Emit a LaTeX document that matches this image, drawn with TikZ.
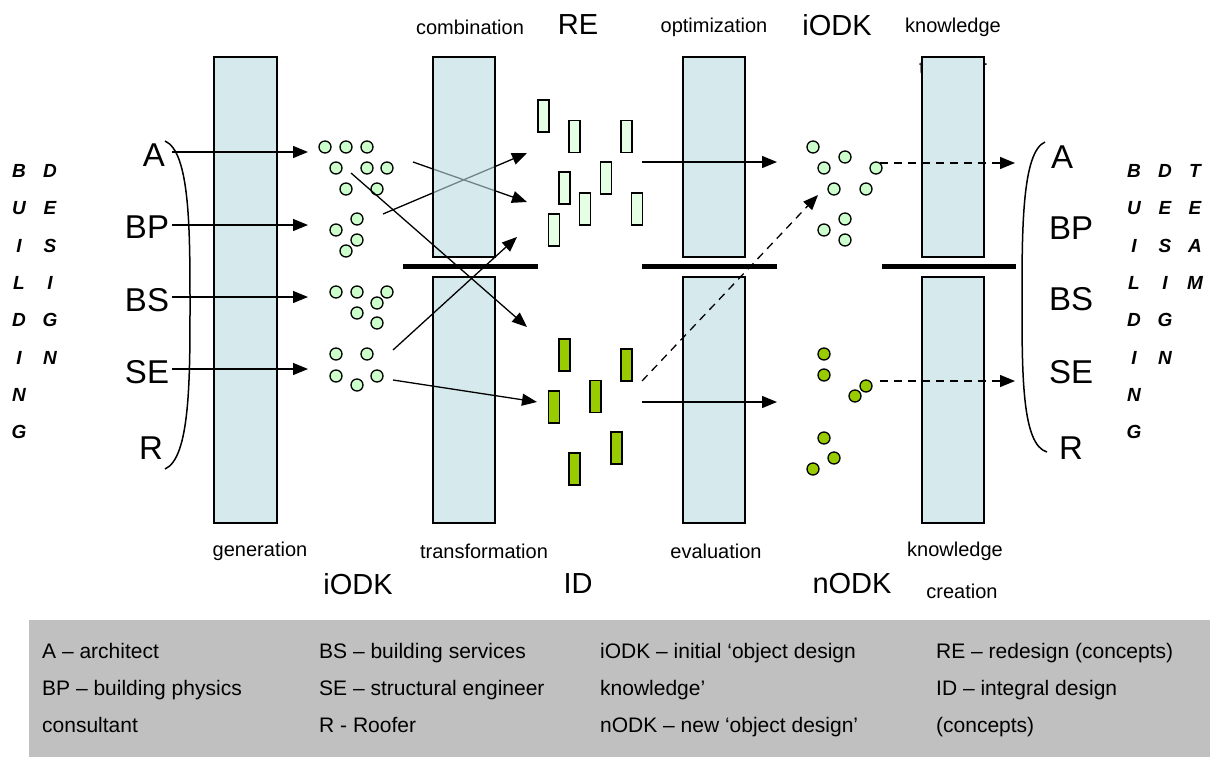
\documentclass[tikz,border=0pt]{standalone}
\usepackage{fontspec}
\setmainfont{Liberation Sans}
\usetikzlibrary{arrows.meta,positioning}

\definecolor{barfill}{RGB}{214,234,238}
\definecolor{barglass}{RGB}{187,220,227}
\definecolor{odkgreen}{RGB}{204,255,204}
\definecolor{regreen}{RGB}{228,255,228}
\definecolor{idgreen}{RGB}{153,204,0}
\definecolor{legendgray}{RGB}{192,192,192}

\begin{document}
\begin{tikzpicture}[
        x=1pt, y=-1pt,
        phase/.style={draw, line width=1.6pt, fill=barfill},
        phaseglass/.style={draw, line width=1.6pt, fill=barglass, fill opacity=0.6},
        gate/.style={line width=5pt},
        odk/.style={circle, draw, line width=1.3pt, fill=odkgreen, minimum size=12pt, inner sep=0pt},
        nodk/.style={odk, fill=idgreen},
        recon/.style={draw, line width=1.3pt, fill=regreen, minimum width=11pt, minimum height=32pt, inner sep=0pt},
        idcon/.style={recon, fill=idgreen},
        flow/.style={line width=1.3pt, -{Triangle[length=15pt,width=12pt]}},
        flowdash/.style={flow, dash pattern=on 8pt off 6pt},
        small/.style={font=\fontsize{20}{24}\selectfont},
        big/.style={font=\fontsize{29}{34}\selectfont},
        actor/.style={font=\fontsize{33}{38}\selectfont},
        letter/.style={font=\fontsize{19}{22}\selectfont\bfseries\itshape, inner sep=0pt},
        legend/.style={font=\fontsize{21}{25}\selectfont, anchor=base west, inner sep=0pt}
    ]
    \useasboundingbox (0,0) rectangle (1223,760);

    % Phase labels
    \node[small] (comb) at (470,27) {combination};
    \node[big] (re) at (578,25) {RE};
    \node[small] (optim) at (714,27) {optimization};
    \node[big] (iodkt) at (837,25) {iODK};
    \node[small] (know) at (953,27) {knowledge};
    \node[small] (transfer) at (953,67) {transfer};

    \node[small] (gen) at (260,551) {generation};
    \node[small] (transf) at (484,551) {transformation};
    \node[small] (eval) at (716,551) {evaluation};
    \node[small] (knowb) at (955,551) {knowledge};
    \node[big] (iodkb) at (358,584) {iODK};
    \node[big] (id) at (578,584) {ID};
    \node[big] (nodkb) at (852,584) {nODK};
    \node[small] (creation) at (962,591) {creation};

    % Phases (bars) and gates
    \draw[phase] (214,57) rectangle (277,523);
    \draw[phase] (433,277) rectangle (495,523);
    \foreach \x in {683,922} {
        \draw[phase] (\x,57) rectangle (\x+62,257);
        \draw[phase] (\x,277) rectangle (\x+62,523);
    }
    \draw[gate] (403,266) -- (538,266);
    \draw[gate] (642,266) -- (777,266);
    \draw[gate] (882,266) -- (1016,266);

    % Team members
    \node[actor] (lA) at (154,155) {A};
    \node[actor] (lBP) at (147,227) {BP};
    \node[actor] (lBS) at (147,300) {BS};
    \node[actor] (lSE) at (147,372) {SE};
    \node[actor] (lR) at (151,448) {R};
    \draw[line width=1.5pt] (165,141) .. controls (190,152) and (190,230) .. (190,305)
        .. controls (190,380) and (190,458) .. (165,469);

    \node[actor] (rA) at (1062,157) {A};
    \node[actor] (rBP) at (1071,228) {BP};
    \node[actor] (rBS) at (1071,299) {BS};
    \node[actor] (rSE) at (1071,372) {SE};
    \node[actor] (rR) at (1071,448) {R};
    \draw[line width=1.5pt] (1045,142) .. controls (1022,152) and (1022,230) .. (1022,300)
        .. controls (1022,375) and (1022,445) .. (1047,452);

    \foreach \l [count=\i] in {B,U,I,L,D,I,N,G} {
        \node[letter] (lb\i) at (19,{171+37.3*(\i-1)}) {\l};
        \node[letter] (rb\i) at (1134,{171+37.3*(\i-1)}) {\l};
    }
    \foreach \l [count=\i] in {D,E,S,I,G,N} {
        \node[letter] (ld\i) at (50,{171+37.3*(\i-1)}) {\l};
        \node[letter] (rd\i) at (1165,{171+37.3*(\i-1)}) {\l};
    }
    \foreach \l [count=\i] in {T,E,A,M} {
        \node[letter] (rt\i) at (1195,{171+37.3*(\i-1)}) {\l};
    }

    % Initial object design knowledge
    \foreach \x/\y [count=\i] in {325/147,346/147,367/147,336/168,367/168,387/168,346/189,377/189,
        357/219,336/230,357/240,346/251,336/292,357/292,387/292,377/303,357/313,377/323,
        336/354,367/354,336/376,377/376,357/385} {
        \node[odk] (io\i) at (\x,\y) {};
    }
    \foreach \y [count=\i] in {152,225,297,369} {
        \coordinate (in\i) at (172,\y);
        \coordinate (to\i) at (308,\y);
        \draw[flow] (in\i) -- (to\i);
    }

    % Redesign and integral design concepts
    \foreach \x/\y [count=\i] in {543.5/116,574.5/136.5,626.5/136.5,606/178,564.5/188,585/209,637/209,554/230} {
        \node[recon] (rc\i) at (\x,\y) {};
    }
    \foreach \x/\y [count=\i] in {564.5/355,626.5/365,595.5/396.5,554/407,616.5/448,574.5/469} {
        \node[idcon] (ic\i) at (\x,\y) {};
    }

    % Combination: arrows behind the glass bar
    \coordinate (ca1) at (413,162);  \coordinate (ca2) at (527,202);
    \coordinate (cb1) at (383,214);  \coordinate (cb2) at (527,153);
    \draw[flow] (ca1) -- (ca2);
    \draw[flow] (cb1) -- (cb2);
    \draw[phaseglass] (433,57) rectangle (495,257);

    % Transformation
    \coordinate (cc1) at (351,173);  \coordinate (cc2) at (527,327);
    \coordinate (cd1) at (393,350);  \coordinate (cd2) at (517,237);
    \coordinate (ce1) at (393,380);  \coordinate (ce2) at (537,402);
    \draw[flow] (cc1) -- (cc2);
    \draw[flow] (cd1) -- (cd2);
    \draw[flow] (ce1) -- (ce2);

    % Optimization and evaluation
    \coordinate (oa1) at (642,162);  \coordinate (oa2) at (777,162);
    \coordinate (ob1) at (642,402);  \coordinate (ob2) at (777,402);
    \coordinate (oc1) at (642,381);  \coordinate (oc2) at (818,195);
    \draw[flow] (oa1) -- (oa2);
    \draw[flow] (ob1) -- (ob2);
    \draw[flowdash] (oc1) -- (oc2);

    % Resulting object design knowledge
    \foreach \x/\y [count=\i] in {813/147,845/157,824/168,876/168,834/189,866/189,845/219,824/230,845/240} {
        \node[odk] (ir\i) at (\x,\y) {};
    }
    \foreach \x/\y [count=\i] in {824/354,824/375,866/386,855/396,824/438,834/458,813/469} {
        \node[nodk] (nr\i) at (\x,\y) {};
    }
    \coordinate (ka1) at (880,163);  \coordinate (ka2) at (1015,163);
    \coordinate (kb1) at (880,381);  \coordinate (kb2) at (1015,381);
    \draw[flowdash] (ka1) -- (ka2);
    \draw[flowdash] (kb1) -- (kb2);

    % Legend
    \fill[legendgray] (29,620) rectangle (1210,757);
    \node[legend] (lg1) at (42,658) {A – architect};
    \node[legend] (lg2) at (42,695) {BP – building physics};
    \node[legend] (lg3) at (42,732) {consultant};
    \node[legend] (lg4) at (319,658) {BS – building services};
    \node[legend] (lg5) at (319,695) {SE – structural engineer};
    \node[legend] (lg6) at (319,732) {R - Roofer};
    \node[legend] (lg7) at (600,658) {iODK – initial ‘object design};
    \node[legend] (lg8) at (600,695) {knowledge’};
    \node[legend] (lg9) at (600,732) {nODK – new ‘object design’};
    \node[legend] (lg10) at (936,658) {RE – redesign (concepts)};
    \node[legend] (lg11) at (936,695) {ID – integral design};
    \node[legend] (lg12) at (936,732) {(concepts)};

\end{tikzpicture}
\end{document}
